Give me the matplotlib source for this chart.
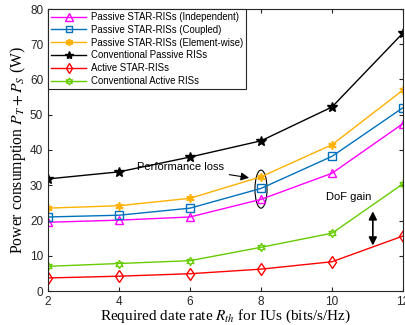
import matplotlib
matplotlib.use("Agg")
import matplotlib.pyplot as plt
from matplotlib.patches import Ellipse

# data
rates = [2, 4, 6, 8, 10, 12]
passive_indep = [19.5, 20.1, 21.0, 26.0, 33.4, 47.5]
passive_coupled = [21.0, 21.5, 23.5, 29.1, 38.2, 52.0]
passive_elem = [23.5, 24.2, 26.3, 32.4, 41.5, 57.0]
conv_passive = [31.8, 33.8, 38.0, 42.6, 52.2, 73.2]
active_star = [3.7, 4.2, 4.9, 6.2, 8.3, 15.6]
conv_active = [7.0, 7.8, 8.6, 12.4, 16.4, 30.4]

labels = [
    "Passive STAR-RISs (Independent)",
    "Passive STAR-RISs (Coupled)",
    "Passive STAR-RISs (Element-wise)",
    "Conventional Passive RISs",
    "Active STAR-RISs",
    "Conventional Active RISs",
]

plt.rcParams["font.family"] = "Liberation Sans"
plt.rcParams["mathtext.fontset"] = "stix"

fig = plt.figure(figsize=(4.06, 3.25), dpi=100)
ax = fig.add_axes([48 / 406, 1 - 291 / 325, 355 / 406, 282 / 325])

ax.plot(rates, passive_indep, color="#FF00FF", marker="^", mfc="none", ms=6, lw=1, label=labels[0])
ax.plot(rates, passive_coupled, color="#0072BD", marker="s", mfc="none", ms=5.5, lw=1, label=labels[1])
ax.plot(rates, passive_elem, color="#FFB000", marker=(6, 2, 0), ms=6, mew=1.2, lw=1, label=labels[2])
ax.plot(rates, conv_passive, color="black", marker="*", ms=7, lw=1, label=labels[3])
ax.plot(rates, active_star, color="red", marker="d", mfc="none", ms=6, lw=1, label=labels[4])
ax.plot(rates, conv_active, color="#66CC00", marker=(6, 1, 0), mfc="none", ms=6, lw=1, label=labels[5])

ax.set_xlim(2, 12)
ax.set_ylim(0, 80)
ax.set_xticks(rates)
ax.set_yticks(range(0, 81, 10))
ax.tick_params(direction="in", top=True, right=True, labelsize=8.5, length=3, colors="#262626")
for s in ax.spines.values():
    s.set_color("#262626")
    s.set_linewidth(0.8)

ax.set_xlabel("Required date rate $R_{th}$ for IUs (bits/s/Hz)", family="Liberation Serif", fontsize=11, labelpad=0)
ax.set_ylabel("Power consumption $P_T + P_S$ (W)", family="Liberation Serif", fontsize=11.3, labelpad=1)

leg = ax.legend(loc="upper left", fontsize=6.9, fancybox=False, framealpha=1, edgecolor="#262626",
                borderaxespad=0, handlelength=3.7, labelspacing=0.3, borderpad=0.3, handletextpad=0.5,
                markerscale=0.85)
leg.get_frame().set_linewidth(0.8)

# annotations
ax.add_patch(Ellipse((8, 28.9), 0.34, 10.8, fill=False, color="black", lw=0.8))
ax.annotate("Performance loss", xy=(7.74, 32.0), xytext=(6.95, 35.2), fontsize=8, ha="right", va="center",
            arrowprops=dict(arrowstyle="-|>", color="black", lw=0.8, mutation_scale=12))
ax.text(9.84, 26.7, "DoF gain", fontsize=8, va="center")
ax.annotate("", xy=(11.15, 12.1), xytext=(11.15, 23.4),
            arrowprops=dict(arrowstyle="<|-|>", color="black", lw=1.2, mutation_scale=12))

fig.savefig("out.png", dpi=100)
